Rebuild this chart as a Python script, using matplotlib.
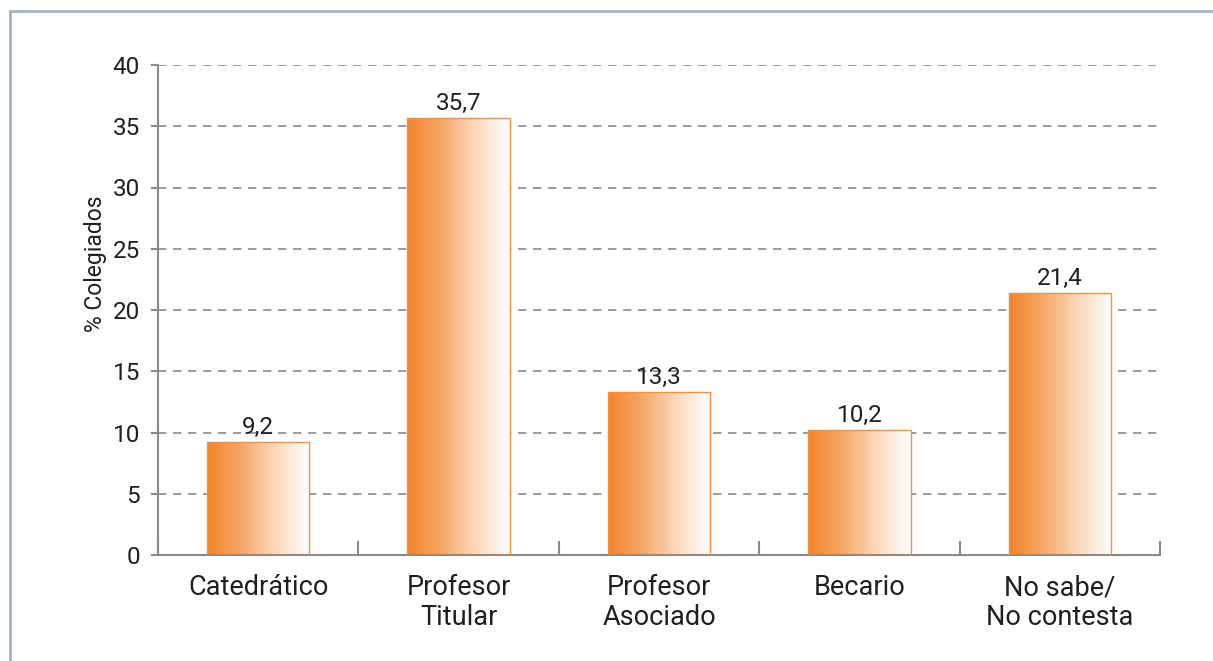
import numpy as np
import matplotlib
matplotlib.use("Agg")
import matplotlib.pyplot as plt
from matplotlib.colors import LinearSegmentedColormap
from matplotlib.lines import Line2D

categories = ["Catedrático", "Profesor\nTitular", "Profesor\nAsociado", "Becario", "No sabe/\nNo contesta"]
values = [9.2, 35.7, 13.3, 10.2, 21.4]
value_labels = ["9,2", "35,7", "13,3", "10,2", "21,4"]
yticks = [0, 5, 10, 15, 20, 25, 30, 35, 40]

plt.rcParams['font.family'] = ['Roboto', 'DejaVu Sans']

W, H = 1213, 661
fig = plt.figure(figsize=(W / 100, H / 100), dpi=100)
ax = fig.add_axes([158 / W, 1 - 555 / H, (1160 - 158) / W, (555 - 65) / H])

# figure frame (left and top lines)
frame_col = "#9DB4C8"
fig.add_artist(Line2D([9.5 / W, 9.5 / W], [0, 1 - 11 / H], transform=fig.transFigure, color=frame_col, lw=2))
fig.add_artist(Line2D([9.5 / W, 1], [1 - 11 / H, 1 - 11 / H], transform=fig.transFigure, color=frame_col, lw=2))

x = np.arange(len(categories))
bars = ax.bar(x, values, width=0.51, color="none", edgecolor="#F2913F", linewidth=1.0, zorder=3)

cmap = LinearSegmentedColormap.from_list("og", ["#F4842A", "#F6A868", "#FBD9BC", "#FFFFFF"])
grad = np.linspace(0, 1, 256).reshape(1, -1)
for b in bars:
    x0, y0 = b.get_x(), b.get_y()
    w, h = b.get_width(), b.get_height()
    im = ax.imshow(grad, cmap=cmap, aspect="auto", extent=[x0, x0 + w, y0, y0 + h], zorder=2,
                   interpolation="bilinear")
    im.set_clip_path(b)

for xi, v, lab in zip(x, values, value_labels):
    ax.text(xi, v + 0.25, lab, ha="center", va="bottom", fontsize=17.5, color="#231F20")

ax.set_xlim(-0.5, len(categories) - 0.5)
ax.set_ylim(0, 40)
ax.set_yticks(yticks)
ax.set_yticklabels([str(t) for t in yticks], fontsize=17.5, color="#231F20")
ax.set_xticks(x)
ax.set_xticklabels(categories, fontsize=19.5, color="#231F20", linespacing=1.1)
ax.tick_params(axis="x", length=0, pad=14)
ax.set_xticks(np.arange(-0.5, len(categories)), minor=True)
ax.tick_params(axis="x", which="minor", direction="in", length=10, color="#8A8A8A", width=1.5)
ax.tick_params(axis="y", length=5, color="#8A8A8A", width=1.5, pad=8)

ax.yaxis.grid(True, linestyle=(0, (5, 4)), color="#8A8A8A", linewidth=1.2, zorder=1)
ax.set_axisbelow(True)
for s in ["top", "right"]:
    ax.spines[s].set_visible(False)
for s in ["left", "bottom"]:
    ax.spines[s].set_color("#8A8A8A")
    ax.spines[s].set_linewidth(1.5)

ax.set_ylabel("% Colegiados", fontsize=16.5, color="#231F20")
ax.yaxis.set_label_coords((107 - 158) / (1160 - 158), (555 - 264) / (555 - 65))

fig.savefig("out.png", dpi=100)
